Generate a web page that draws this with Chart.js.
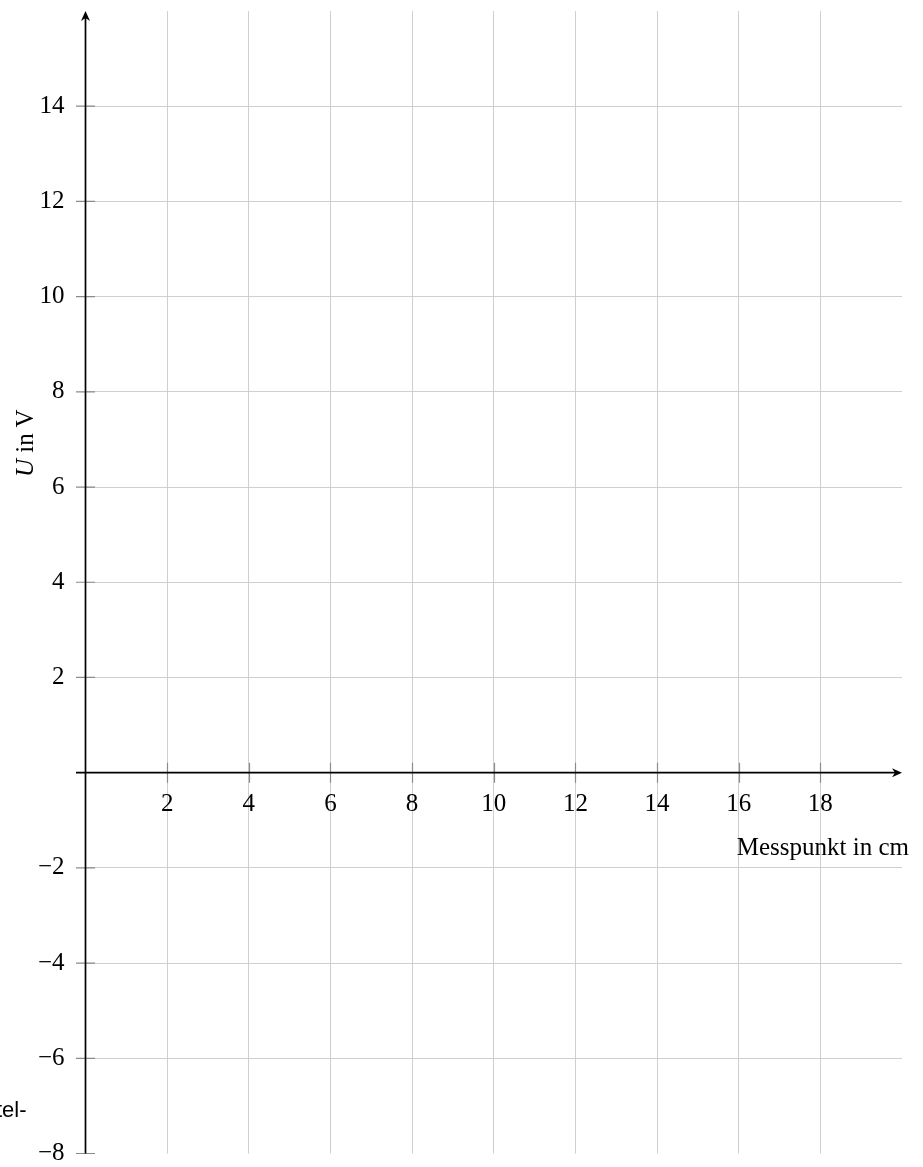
<!DOCTYPE html>
<html lang="de">
<head>
    <meta charset="UTF-8">
    <title>Messpunkt – Spannung</title>
    <script src="https://cdn.jsdelivr.net/npm/chart.js@4/dist/chart.umd.min.js"></script>
    <style>
        html, body { margin: 0; padding: 0; background: #fff; }
        #wrap { position: relative; width: 923px; height: 1167px; overflow: hidden; }
        canvas { position: absolute; left: 0; top: 0; }
        .lbl { position: absolute; font-family: "Liberation Serif", "Times New Roman", serif; font-size: 25px; line-height: 25px; color: #000; white-space: nowrap; }
        #ytitle { left: 12px; top: 477px; transform-origin: 0 0; transform: rotate(-90deg); }
        #xtitle { right: 14px; top: 834px; }
        #stray { position: absolute; left: -4px; top: 1099px; font-family: "Liberation Sans", Arial, sans-serif; font-size: 22px; line-height: 22px; color: #000; }
    </style>
</head>
<body>
    <div id="wrap">
        <canvas id="chart" width="923" height="1167"></canvas>
        <div class="lbl" id="ytitle"><i>U</i> in V</div>
        <div class="lbl" id="xtitle">Messpunkt in cm</div>
        <div id="stray">tel-</div>
    </div>
    <script>
        // axis ranges and tick values read from the sheet
        const xRange = [0, 20];
        const yRange = [-8, 16];
        const xTicks = [2, 4, 6, 8, 10, 12, 14, 16, 18];
        const yTicks = [-8, -6, -4, -2, 2, 4, 6, 8, 10, 12, 14];
        // the sheet is still empty, no measured points yet
        const messpunkte = [];
        const spannung = [];

        const serif = '"Liberation Serif", "Times New Roman", serif';
        const fmt = v => (v < 0 ? '\u2212' + Math.abs(v) : String(v));

        // black axes through the origin with arrows, plus small crossing tick marks
        const axesPlugin = {
            id: 'axes',
            afterDraw(chart) {
                const ctx = chart.ctx;
                const xs = chart.scales.x, ys = chart.scales.y;
                const x0 = xs.getPixelForValue(0), y0 = ys.getPixelForValue(0);
                const top = chart.chartArea.top, right = chart.chartArea.right, bottom = chart.chartArea.bottom;
                ctx.save();

                // tick marks
                ctx.strokeStyle = '#8a8a8a';
                ctx.lineWidth = 1.2;
                ctx.beginPath();
                xTicks.forEach(v => {
                    const p = Math.round(xs.getPixelForValue(v)) + 0.5;
                    ctx.moveTo(p, y0 - 10);
                    ctx.lineTo(p, y0 + 10);
                });
                yTicks.forEach(v => {
                    const p = ys.getPixelForValue(v);
                    ctx.moveTo(x0 - 9.5, p);
                    ctx.lineTo(x0 + 9.5, p);
                });
                ctx.stroke();

                // axis lines
                ctx.strokeStyle = '#000';
                ctx.fillStyle = '#000';
                ctx.lineWidth = 1.7;
                ctx.beginPath();
                ctx.moveTo(x0 - 9.5, y0);
                ctx.lineTo(right - 4, y0);
                ctx.moveTo(x0, bottom);
                ctx.lineTo(x0, top + 4);
                ctx.stroke();

                // arrow heads
                ctx.beginPath();
                ctx.moveTo(right, y0);
                ctx.lineTo(right - 10, y0 - 4.5);
                ctx.lineTo(right - 7, y0);
                ctx.lineTo(right - 10, y0 + 4.5);
                ctx.closePath();
                ctx.moveTo(x0, top);
                ctx.lineTo(x0 - 4.5, top + 10);
                ctx.lineTo(x0, top + 7);
                ctx.lineTo(x0 + 4.5, top + 10);
                ctx.closePath();
                ctx.fill();
                ctx.restore();
            }
        };

        const gridColor = '#cfcfcf';

        new Chart(document.getElementById('chart'), {
            type: 'scatter',
            data: {
                datasets: [{
                    label: 'U in V',
                    data: messpunkte.map((x, i) => ({ x: x, y: spannung[i] })),
                    pointRadius: 3,
                    borderColor: '#000',
                    backgroundColor: '#000'
                }]
            },
            options: {
                responsive: false,
                animation: false,
                devicePixelRatio: 1,
                layout: { padding: { left: 0, right: 21, top: 11, bottom: 13.5 } },
                plugins: {
                    legend: { display: false },
                    tooltip: { enabled: false }
                },
                scales: {
                    x: {
                        type: 'linear',
                        min: xRange[0],
                        max: xRange[1],
                        position: { y: 0 },
                        afterBuildTicks: s => { s.ticks = xTicks.map(v => ({ value: v })); },
                        afterFit: s => { s.paddingLeft = 0; s.paddingRight = 0; },
                        grid: { color: gridColor, lineWidth: 1, drawTicks: false },
                        border: { display: false },
                        ticks: {
                            autoSkip: false,
                            maxRotation: 0,
                            padding: 17,
                            color: '#000',
                            font: { family: serif, size: 25 },
                            callback: v => fmt(v)
                        }
                    },
                    y: {
                        type: 'linear',
                        min: yRange[0],
                        max: yRange[1],
                        position: 'left',
                        afterBuildTicks: s => { s.ticks = yTicks.map(v => ({ value: v })); },
                        afterFit: s => { s.width = 85.5; s.paddingTop = 0; s.paddingBottom = 0; },
                        grid: {
                            color: c => (c.tick && c.tick.value === yRange[0] ? 'rgba(0,0,0,0)' : gridColor),
                            lineWidth: 1,
                            drawTicks: false
                        },
                        border: { display: false },
                        ticks: {
                            autoSkip: false,
                            padding: 21,
                            color: '#000',
                            font: { family: serif, size: 25 },
                            callback: v => fmt(v)
                        }
                    }
                }
            },
            plugins: [axesPlugin]
        });
    </script>
</body>
</html>
